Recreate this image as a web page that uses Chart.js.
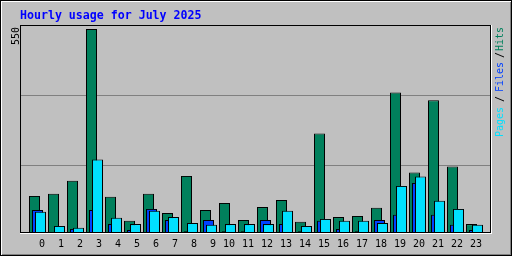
<!DOCTYPE html>
<html>
<head>
<meta charset="utf-8">
<script src="https://cdn.jsdelivr.net/npm/chart.js@4"></script>
<style>
  html, body { margin: 0; padding: 0; background: #c0c0c0; }
  canvas { display: block; }
</style>
</head>
<body>
<canvas id="hourlyChart" width="512" height="256"></canvas>
<script>
// Hourly usage, July 2025
const hours = [0, 1, 2, 3, 4, 5, 6, 7, 8, 9, 10, 11, 12, 13, 14, 15, 16, 17, 18, 19, 20, 21, 22, 23];
const hourLabels = [' 0', ' 1', ' 2', ' 3', ' 4', ' 5', ' 6', ' 7', ' 8', ' 9', '10', '11',
                    '12', '13', '14', '15', '16', '17', '18', '19', '20', '21', '22', '23'];
const hits  = [100, 106, 141, 550, 98, 33, 106, 54, 154, 62, 81, 35, 70, 89, 30, 268, 43, 46, 68, 379, 163, 358, 179, 24];
const files = [62, 3, 11, 62, 24, 8, 65, 35, 5, 35, 5, 5, 35, 24, 5, 33, 11, 5, 35, 49, 135, 49, 22, 8];
const pages = [57, 19, 14, 198, 41, 24, 60, 43, 27, 22, 24, 24, 24, 60, 19, 38, 33, 33, 27, 127, 152, 87, 65, 22];
const maxValue = 550;
const maxLabel = '550';
const title = 'Hourly usage for July 2025';

const HIT_COLOR = '#00805c';
const FILE_COLOR = '#0040ff';
const PAGE_COLOR = '#00e0ff';

// plot box in pixels (webalizer style layout)
const LEFT = 20, RIGHT = 491, TOP = 29, BASE = 233;
const SLOT = 19;

// each series gets its own x axis, shifted a few pixels so the bars overlap
function hourAxis(firstCenter, show) {
    const min = -(firstCenter - LEFT) / SLOT;
    return {
        type: 'linear',
        display: show,
        offset: false,
        min: min,
        max: min + (RIGHT - LEFT) / SLOT,
        grid: { display: false, drawTicks: false },
        border: { display: false },
        afterBuildTicks: axis => { axis.ticks = hours.map(h => ({ value: h })); },
        ticks: {
            autoSkip: false,
            maxRotation: 0,
            padding: 5,
            labelOffset: -1.5,
            color: '#000',
            font: { family: '"DejaVu Sans Mono"', size: 10, lineHeight: 1.2 },
            callback: (v, i) => hourLabels[i]
        }
    };
}

const bevel = {
    id: 'bevel',
    beforeDraw(chart) {
        const c = chart.ctx;
        c.save();
        c.fillStyle = '#c0c0c0';
        c.fillRect(0, 0, 512, 256);
        c.fillStyle = '#000';
        c.fillRect(0, 0, 512, 1);
        c.fillRect(0, 255, 512, 1);
        c.fillRect(0, 0, 1, 256);
        c.fillRect(511, 0, 1, 256);
        c.fillStyle = '#fff';
        c.fillRect(1, 1, 510, 1);
        c.fillRect(1, 1, 1, 254);
        c.fillStyle = '#808080';
        c.fillRect(2, 254, 509, 1);
        c.fillRect(510, 2, 1, 253);
        // index lines
        c.fillRect(21, 95, 469, 1);
        c.fillRect(21, 165, 469, 1);
        c.restore();
    },
    afterDatasetsDraw(chart) {
        const c = chart.ctx;
        c.save();
        c.fillStyle = '#000';
        c.fillRect(20, 25, 471, 1);
        c.fillRect(20, 25, 1, 208);
        c.fillRect(490, 25, 1, 208);
        c.fillRect(20, 232, 471, 1);
        c.fillStyle = '#fff';
        c.fillRect(491, 25, 1, 209);
        c.fillRect(20, 233, 472, 1);
        c.restore();
    },
    afterDraw(chart) {
        const c = chart.ctx;
        c.save();
        c.textBaseline = 'alphabetic';
        c.textAlign = 'left';
        c.font = 'bold 11.6px "DejaVu Sans Mono"';
        c.fillStyle = '#0000ff';
        c.fillText(title, 20, 19);

        c.font = '10px "DejaVu Sans Mono"';
        c.fillStyle = '#000';
        c.translate(19, 45);
        c.rotate(-Math.PI / 2);
        c.fillText(maxLabel, 0, 0);
        c.restore();

        // legend on the right, reading upwards
        const parts = [
            ['Pages', PAGE_COLOR, 137],
            ['/', '#000', 102],
            ['Files', FILE_COLOR, 92],
            ['/', '#000', 58],
            ['Hits', HIT_COLOR, 51]
        ];
        c.save();
        c.font = '10px "DejaVu Sans Mono"';
        c.textBaseline = 'alphabetic';
        parts.forEach(([txt, col, y]) => {
            c.save();
            c.translate(503, y);
            c.rotate(-Math.PI / 2);
            c.fillStyle = col;
            c.fillText(txt, 0, 0);
            c.restore();
        });
        c.restore();
    }
};

const barStyle = {
    borderColor: '#000',
    borderWidth: 1,
    borderSkipped: false,
    barThickness: 11,
    inflateAmount: 0,
    grouped: false
};

new Chart(document.getElementById('hourlyChart'), {
    type: 'bar',
    data: {
        datasets: [
            { label: 'Hits', data: hours.map((h, i) => ({ x: h, y: hits[i] })), backgroundColor: HIT_COLOR, xAxisID: 'xHits', order: 3, ...barStyle },
            { label: 'Files', data: hours.map((h, i) => ({ x: h, y: files[i] })), backgroundColor: FILE_COLOR, xAxisID: 'xFiles', order: 2, ...barStyle },
            { label: 'Pages', data: hours.map((h, i) => ({ x: h, y: pages[i] })), backgroundColor: PAGE_COLOR, xAxisID: 'xPages', order: 1, ...barStyle }
        ]
    },
    options: {
        responsive: false,
        animation: false,
        events: [],
        devicePixelRatio: 1,
        layout: { padding: { left: LEFT, right: 512 - RIGHT, top: TOP, bottom: 256 - BASE - 22 } },
        plugins: {
            legend: { display: false },
            tooltip: { enabled: false }
        },
        scales: {
            xHits: hourAxis(34.5, false),
            xFiles: hourAxis(37.5, false),
            xPages: hourAxis(40.5, true),
            y: { display: false, min: 0, max: maxValue }
        }
    },
    plugins: [bevel]
});
</script>
</body>
</html>
